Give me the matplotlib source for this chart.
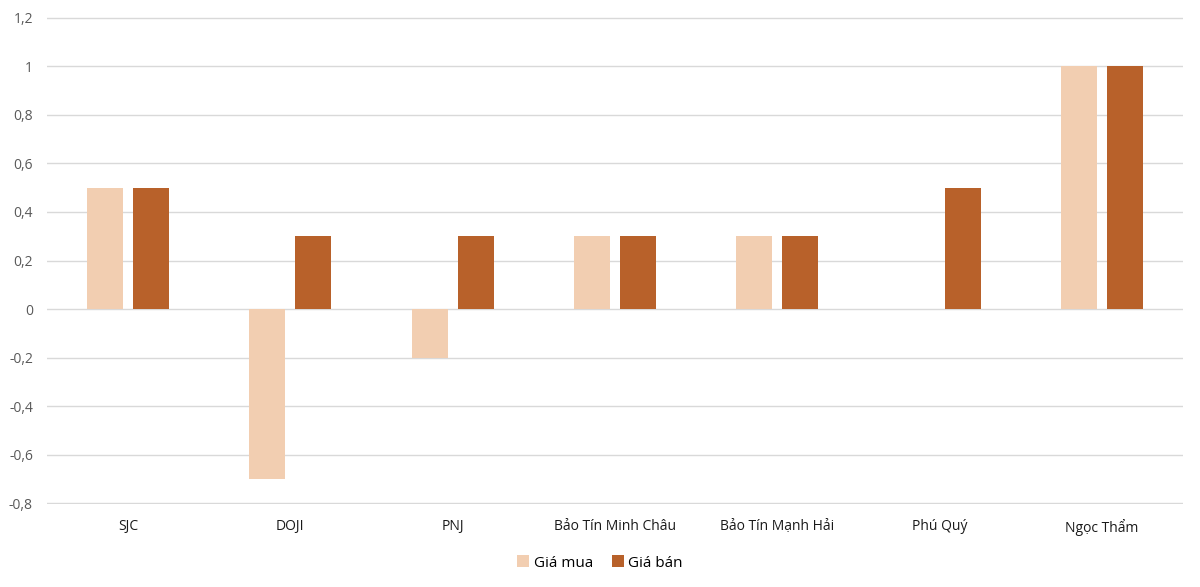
import matplotlib
matplotlib.use("Agg")
import matplotlib.pyplot as plt
import numpy as np

categories = ["SJC", "DOJI", "PNJ", "Bảo Tín Minh Châu", "Bảo Tín Mạnh Hải", "Phú Quý", "Ngọc Thẩm"]
gia_mua = [0.5, -0.7, -0.2, 0.3, 0.3, 0.0, 1.0]
gia_ban = [0.5, 0.3, 0.3, 0.3, 0.3, 0.5, 1.0]
y_ticks = [-0.8, -0.6, -0.4, -0.2, 0, 0.2, 0.4, 0.6, 0.8, 1, 1.2]
y_tick_labels = ["-0,8", "-0,6", "-0,4", "-0,2", "0", "0,2", "0,4", "0,6", "0,8", "1", "1,2"]

plt.rcParams['font.family'] = ['Open Sans', 'DejaVu Sans']

fig = plt.figure(figsize=(12, 5.87), dpi=100)
ax = fig.add_axes([0.039, 0.1414, 0.947, 0.8296])

x = np.arange(len(categories))
w = 0.222
off = 0.142
ax.bar(x - off, gia_mua, width=w, color="#F2CEB1", label="Giá mua", zorder=3)
ax.bar(x + off, gia_ban, width=w, color="#B8612A", label="Giá bán", zorder=3)

ax.set_xlim(-0.5, len(categories) - 0.5)
ax.set_ylim(-0.803, 1.203)
ax.set_yticks(y_ticks)
ax.set_yticklabels(y_tick_labels, fontsize=10, color="#595959")
ax.set_xticks(x)
ax.set_xticklabels(categories, fontsize=10, color="#1a1a1a")
ax.tick_params(axis='both', length=0)
ax.tick_params(axis='y', pad=10)
ax.tick_params(axis='x', pad=11)
ax.grid(axis='y', color="#D9D9D9", linewidth=1, zorder=0)
for s in ax.spines.values():
    s.set_visible(False)

fig.legend(loc="center", bbox_to_anchor=(0.5, 0.041), ncol=2, frameon=False,
           fontsize=11, handlelength=0.8, handleheight=0.8, handletextpad=0.3,
           columnspacing=1.2)

fig.savefig("out.png", dpi=100)
